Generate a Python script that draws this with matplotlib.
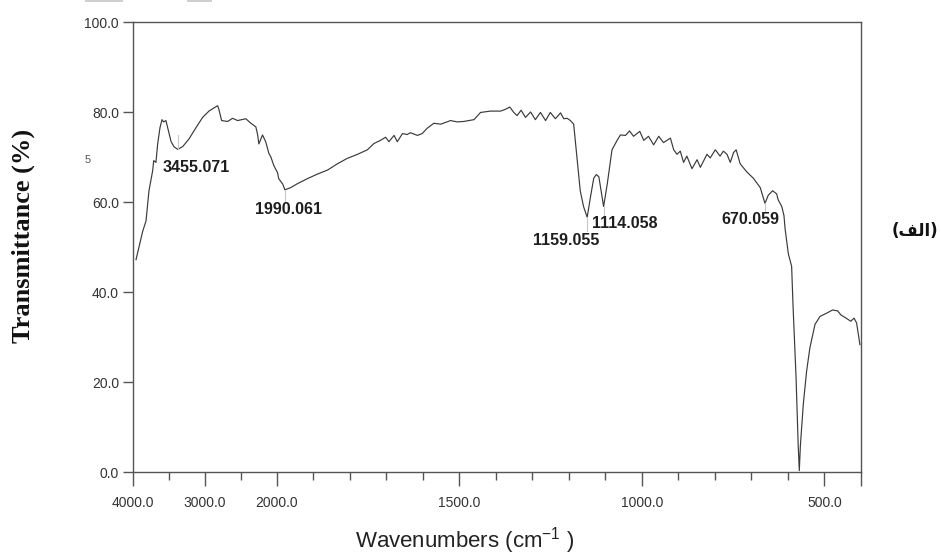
import numpy as np
import matplotlib
matplotlib.use("Agg")
import matplotlib.pyplot as plt
from matplotlib.ticker import FixedLocator, FuncFormatter
from matplotlib.patches import Rectangle

# ---------------- data ----------------
wavenumber = [3958, 3865, 3819, 3778, 3726, 3712, 3681, 3657, 3625, 3597, 3574, 3542, 3518,
              3472, 3431, 3379, 3310, 3222, 3125, 3032, 2944, 2875, 2824, 2806, 2768, 2685,
              2615, 2546, 2431, 2361, 2292, 2268, 2250, 2199, 2153, 2111, 2083, 2042, 1998,
              1995, 1984, 1978, 1962, 1943, 1916, 1889, 1861, 1834, 1807, 1779, 1752, 1734,
              1716, 1702, 1693, 1679, 1670, 1656, 1643, 1634, 1615, 1602, 1588, 1570, 1551,
              1524, 1506, 1488, 1460, 1442, 1415, 1387, 1374, 1362, 1351, 1342, 1331, 1319,
              1305, 1292, 1278, 1264, 1251, 1237, 1223, 1214, 1205, 1196, 1187, 1178, 1169,
              1160, 1150, 1141, 1132, 1125, 1118, 1112, 1105, 1095, 1082, 1068, 1059, 1045,
              1034, 1023, 1006, 995, 982, 968, 954, 941, 922, 913, 904, 895, 886, 877, 863,
              849, 840, 822, 813, 799, 786, 777, 767, 758, 749, 742, 731, 713, 695, 676, 663,
              654, 642, 631, 627, 617, 611, 608, 599, 590, 586, 578, 572, 569, 566, 558, 549,
              540, 526, 512, 494, 478, 464, 455, 441, 428, 419, 412, 403]
transmittance = [47.2, 53.5, 55.8, 62.5, 67.0, 69.2, 68.8, 72.9, 76.5, 78.3, 77.8, 78.1, 76.5,
                 73.5, 72.3, 71.7, 72.3, 74.0, 76.5, 78.8, 80.2, 80.9, 81.4, 80.6, 78.1, 77.9,
                 78.6, 78.1, 78.5, 77.5, 76.7, 75.0, 72.9, 74.9, 73.3, 70.8, 70.0, 68.1, 66.5,
                 65.2, 64.0, 62.7, 63.2, 64.1, 65.2, 66.2, 67.1, 68.5, 69.7, 70.6, 71.6, 73.0,
                 73.7, 74.4, 73.4, 74.8, 73.4, 75.2, 75.0, 75.4, 74.8, 75.2, 76.4, 77.5, 77.3,
                 78.1, 77.8, 77.9, 78.3, 79.9, 80.2, 80.2, 80.6, 81.1, 79.9, 79.2, 80.4, 78.8,
                 80.0, 78.3, 79.9, 78.1, 79.9, 78.5, 79.8, 78.5, 78.6, 78.1, 77.3, 70.0, 62.5,
                 59.0, 56.6, 61.1, 65.3, 66.1, 65.6, 62.5, 59.0, 64.0, 71.6, 73.7, 74.9, 74.8,
                 75.8, 74.6, 75.7, 73.7, 74.6, 72.7, 74.6, 73.2, 74.2, 71.6, 70.6, 71.3, 68.8,
                 70.2, 67.4, 69.4, 67.7, 70.6, 69.8, 71.6, 70.2, 71.3, 70.6, 68.8, 71.0, 71.6,
                 68.5, 66.7, 65.3, 63.2, 59.7, 61.5, 62.5, 61.8, 60.5, 59.0, 57.0, 54.1, 48.5,
                 45.7, 36.6, 21.3, 5.9, 0.3, 5.9, 15.1, 22.4, 27.6, 32.8, 34.6, 35.3, 36.0,
                 35.8, 34.9, 34.2, 33.5, 34.2, 33.1, 28.3]

peak_labels = ["3455.071", "1990.061", "1159.055", "1114.058", "670.059"]
peak_marker_x = [3379, 1978, 1150, 1105, 663]
peak_marker_y = [(71.7, 75.0), (60.0, 62.7), (53.5, 56.6), (56.5, 59.0), (58.0, 59.7)]
peak_text_x = [3125, 1967, 1207, 1046, 704]
peak_text_y = [67.6, 58.3, 51.5, 55.2, 56.0]

major_x = [4000, 3000, 2000, 1500, 1000, 500, 400]
major_x_labels = {4000: "4000.0", 3000: "3000.0", 2000: "2000.0", 1500: "1500.0",
                  1000: "1000.0", 500: "500.0", 400: ""}
minor_x = [3500, 2500, 1900, 1800, 1700, 1600, 1400, 1300, 1200, 1100, 900, 800, 700, 600]
y_ticks = [0, 20, 40, 60, 80, 100]

# ---------------- piecewise x scale (compressed above 2000 cm-1) ----------------
RATIO = 0.197


def fwd(x):
    x = np.asarray(x, dtype=float)
    return np.where(x > 2000, 2000 + (x - 2000) * RATIO, x)


def inv(u):
    u = np.asarray(u, dtype=float)
    return np.where(u > 2000, 2000 + (u - 2000) / RATIO, u)


plt.rcParams["mathtext.fontset"] = "custom"
plt.rcParams["mathtext.rm"] = "Liberation Sans"

W, H = 941, 559
fig = plt.figure(figsize=(W / 100, H / 100), dpi=100)
ax = fig.add_axes([133 / W, (H - 472) / H, (861 - 133) / W, (472 - 22) / H])

ax.set_xscale("function", functions=(fwd, inv))
ax.set_xlim(4000, 400)
ax.set_ylim(0, 100)

ax.plot(wavenumber, transmittance, color="#3a3a3a", lw=0.85)

# faint peak marker lines
for xm, (y0, y1) in zip(peak_marker_x, peak_marker_y):
    ax.plot([xm, xm], [y0, y1], color="#c8c8c8", lw=0.8)

for lab, tx, ty in zip(peak_labels, peak_text_x, peak_text_y):
    ax.text(tx, ty, lab, ha="center", va="center", fontsize=11.5, fontweight="bold",
            family="Liberation Sans", color="#1e1e1e")

spine_c = "#555555"
for s in ax.spines.values():
    s.set_color(spine_c)
    s.set_linewidth(1.0)

ax.xaxis.set_major_locator(FixedLocator(major_x))
ax.xaxis.set_minor_locator(FixedLocator(minor_x))
ax.xaxis.set_major_formatter(FuncFormatter(lambda v, p: major_x_labels.get(int(round(v)), "")))
ax.xaxis.set_minor_formatter(FuncFormatter(lambda v, p: ""))
ax.yaxis.set_major_locator(FixedLocator(y_ticks))
ax.yaxis.set_major_formatter(FuncFormatter(lambda v, p: f"{v:.1f}"))

ax.tick_params(axis="x", which="major", direction="out", length=10, width=1.0,
               color=spine_c, labelsize=10, labelcolor="#333333", pad=7)
ax.tick_params(axis="x", which="minor", direction="out", length=6, width=1.0, color=spine_c)
ax.tick_params(axis="y", which="major", direction="out", length=7, width=1.0,
               color=spine_c, labelsize=10, labelcolor="#333333", pad=3)
for lbl in ax.get_xticklabels() + ax.get_yticklabels():
    lbl.set_family("Liberation Sans")

ax.set_xlabel(r"Wavenumbers (cm$^{\mathregular{-1}}$ )", fontsize=16,
              family="Liberation Sans", color="#222222")
ax.xaxis.label.set_va("center")
ax.xaxis.set_label_coords((465 - 133) / (861 - 133), -(541 - 472) / 450)

fig.text(23 / W, 1 - 236 / H, "Transmittance (%)", rotation=90, ha="center", va="center",
         fontsize=19, fontweight="bold", family="Liberation Serif", color="#111111")

# Persian panel label "(الف)" in presentation forms (visual order)
fig.text(915 / W, 1 - 231 / H, "(\ufed2\ufedf\ufe8d)", ha="center", va="center",
         fontsize=12, fontweight="bold", family=["DejaVu Sans"], color="#111111")

# small scan artefacts at the top-left and left margin
fig.patches.append(Rectangle((85 / W, 1 - 2 / H), 38 / W, 2 / H, transform=fig.transFigure,
                             color="#cfcfcf", lw=0))
fig.patches.append(Rectangle((187 / W, 1 - 2 / H), 25 / W, 2 / H, transform=fig.transFigure,
                             color="#cfcfcf", lw=0))
fig.text(88 / W, 1 - 160 / H, "5", ha="center", va="center", fontsize=8,
         family="Liberation Sans", color="#555555")

fig.savefig("out.png", dpi=100)
